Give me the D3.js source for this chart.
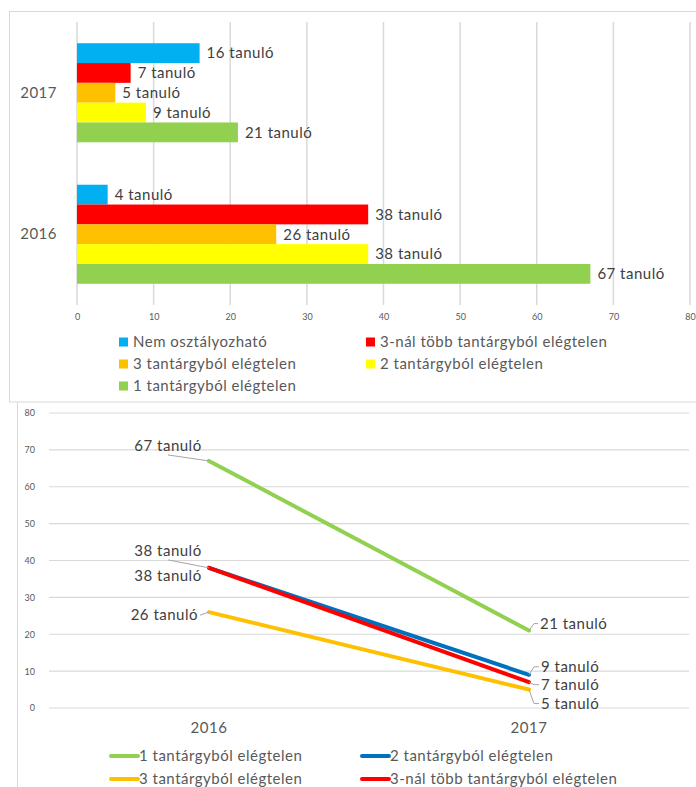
<!DOCTYPE html>
<html>
<head>
<meta charset="utf-8">
<script src="https://cdn.jsdelivr.net/npm/d3@7"></script>
<style>
  body { margin: 0; background: #fff; }
  text { font-family: Lato, "Open Sans", sans-serif; }
  .big { letter-spacing: 0.5px; }
</style>
</head>
<body>
<div id="chart"></div>
<script>
// adatok
var seriesNames = ["Nem osztályozható", "3-nál több tantárgyból elégtelen", "3 tantárgyból elégtelen", "2 tantárgyból elégtelen", "1 tantárgyból elégtelen"];
var seriesColors = ["#00B0F0", "#FF0000", "#FFC000", "#FFFF00", "#92D050"];
var barYears = ["2017", "2016"];
var values2017 = [16, 7, 5, 9, 21];
var values2016 = [4, 38, 26, 38, 67];
var xTicks = [0, 10, 20, 30, 40, 50, 60, 70, 80];

var lineYears = ["2016", "2017"];
var lineNames = ["1 tantárgyból elégtelen", "2 tantárgyból elégtelen", "3 tantárgyból elégtelen", "3-nál több tantárgyból elégtelen"];
var lineColors = ["#92D050", "#0070C0", "#FFC000", "#FF0000"];
var line1 = [67, 21];
var line2 = [38, 9];
var line3 = [26, 5];
var line4 = [38, 7];
var yTicks = [0, 10, 20, 30, 40, 50, 60, 70, 80];

var unit = " tanuló";

(function() {
	var svg = d3.select("#chart")
		.append("svg")
		.attr("width", 696)
		.attr("height", 787);

	// ---------- felső: oszlopdiagram ----------
	svg.append("rect")
		.attr("x", 9.5).attr("y", 11.5)
		.attr("width", 720).attr("height", 390.5)
		.attr("fill", "none")
		.attr("stroke", "#d9d9d9");

	var xScale = d3.scaleLinear().domain([0, 80]).range([77, 690]);
	var yBand = d3.scaleBand().domain(barYears).range([22, 305]).paddingInner(0.3).paddingOuter(0.15);
	var ySub = d3.scaleBand().domain(d3.range(seriesNames.length)).range([0, yBand.bandwidth()]);

	var grid = svg.append("g");
	grid.selectAll("line")
		.data(xTicks)
		.enter()
		.append("line")
		.attr("x1", function(d) { return xScale(d) })
		.attr("x2", function(d) { return xScale(d) })
		.attr("y1", 22)
		.attr("y2", 305)
		.attr("stroke", "#d9d9d9")
		.attr("stroke-width", 1.5);

	var xAxis = d3.axisBottom(xScale).tickValues(xTicks).tickSize(0).tickPadding(9);
	var xg = svg.append("g")
		.attr("transform", "translate(0,305)")
		.call(xAxis);
	xg.select(".domain").remove();
	xg.selectAll("text").attr("fill", "#595959").style("font-size", "9px");

	var yAxis = d3.axisLeft(yBand).tickSize(0).tickPadding(20);
	var yg = svg.append("g")
		.attr("transform", "translate(77,0)")
		.call(yAxis);
	yg.select(".domain").remove();
	yg.selectAll("text").attr("class", "big").attr("fill", "#595959").style("font-size", "15px");

	var barData = [];
	barYears.forEach(function(y) {
		var vals = y == "2017" ? values2017 : values2016;
		vals.forEach(function(v, i) {
			barData.push({ year: y, i: i, value: v });
		});
	});

	svg.selectAll(".bar")
		.data(barData)
		.enter()
		.append("rect")
		.attr("class", "bar")
		.attr("x", xScale(0))
		.attr("y", function(d) { return yBand(d.year) + ySub(d.i) })
		.attr("width", function(d) { return xScale(d.value) - xScale(0) })
		.attr("height", ySub.bandwidth())
		.attr("fill", function(d) { return seriesColors[d.i] });

	svg.selectAll(".bar-label")
		.data(barData)
		.enter()
		.append("text")
		.attr("class", "bar-label big")
		.attr("x", function(d) { return xScale(d.value) + 7 })
		.attr("y", function(d) { return yBand(d.year) + ySub(d.i) + ySub.bandwidth() / 2 })
		.attr("dy", "0.35em")
		.attr("fill", "#404040")
		.style("font-size", "15px")
		.text(function(d) { return d.value + unit });

	var legend1 = svg.selectAll(".leg1")
		.data(seriesNames)
		.enter()
		.append("g")
		.attr("class", "leg1")
		.attr("transform", function(d, i) {
			var col = i % 2, row = Math.floor(i / 2);
			return "translate(" + (col == 0 ? 119 : 366) + "," + (342 + row * 22) + ")";
		});
	legend1.append("rect")
		.attr("x", 0).attr("y", -4.5)
		.attr("width", 9).attr("height", 9)
		.attr("fill", function(d, i) { return seriesColors[i] });
	legend1.append("text")
		.attr("class", "big")
		.attr("x", 14)
		.attr("dy", "0.35em")
		.attr("fill", "#595959")
		.style("font-size", "15px")
		.text(function(d) { return d });

	// ---------- alsó: vonaldiagram ----------
	svg.append("line")
		.attr("x1", 17.5).attr("x2", 17.5)
		.attr("y1", 402).attr("y2", 787)
		.attr("stroke", "#d9d9d9");

	var xPoint = d3.scaleBand().domain(lineYears).range([49, 689]);
	var yScale = d3.scaleLinear().domain([0, 80]).range([708, 413]);

	svg.append("g").selectAll("line")
		.data(yTicks)
		.enter()
		.append("line")
		.attr("x1", 49).attr("x2", 689)
		.attr("y1", function(d) { return yScale(d) })
		.attr("y2", function(d) { return yScale(d) })
		.attr("stroke", "#d9d9d9")
		.attr("stroke-width", 1.2);

	var yAxis2 = d3.axisLeft(yScale).tickValues(yTicks).tickSize(0).tickPadding(0);
	var yg2 = svg.append("g")
		.attr("transform", "translate(35,0)")
		.call(yAxis2);
	yg2.select(".domain").remove();
	yg2.selectAll("text").attr("fill", "#595959").style("font-size", "9px");

	var xAxis2 = d3.axisBottom(xPoint).tickSize(0).tickPadding(14);
	var xg2 = svg.append("g")
		.attr("transform", "translate(0,708)")
		.call(xAxis2);
	xg2.select(".domain").remove();
	xg2.selectAll("text").attr("class", "big").attr("fill", "#595959").style("font-size", "15px");

	var lineValues = [line1, line2, line3, line4];
	var cx = function(i) { return xPoint(lineYears[i]) + xPoint.bandwidth() / 2 };

	var line = d3.line()
		.x(function(d, i) { return cx(i) })
		.y(function(d) { return yScale(d) });

	// rajzolási sorrend: zöld, kék, narancs, piros
	lineValues.forEach(function(vals, s) {
		svg.append("path")
			.datum(vals)
			.attr("d", line)
			.attr("fill", "none")
			.attr("stroke", lineColors[s])
			.attr("stroke-width", 4)
			.attr("stroke-linecap", "round");
	});

	// címkék elhelyezése (sorozat, pont, eltolás)
	var labelPlace = [
		{ s: 0, p: 0, dx: -41, dy: -15, anchor: "middle", lead: true },
		{ s: 1, p: 0, dx: -41, dy: -17, anchor: "middle", lead: true },
		{ s: 3, p: 0, dx: -41, dy: 8, anchor: "middle", lead: false },
		{ s: 2, p: 0, dx: -11, dy: 3, anchor: "end", lead: true },
		{ s: 0, p: 1, dx: 11, dy: -7, anchor: "start", lead: true },
		{ s: 1, p: 1, dx: 12, dy: -8, anchor: "start", lead: true },
		{ s: 3, p: 1, dx: 12, dy: 2.5, anchor: "start", lead: true },
		{ s: 2, p: 1, dx: 12, dy: 14, anchor: "start", lead: true }
	];

	labelPlace.forEach(function(l) {
		var px = cx(l.p), py = yScale(lineValues[l.s][l.p]);
		var tx = px + l.dx, ty = py + l.dy;
		if (l.lead) {
			var path;
			if (l.anchor == "start") {
				path = "M" + px + "," + py + "L" + (px + 5) + "," + ty + "L" + (tx - 2) + "," + ty;
			} else if (l.anchor == "end") {
				path = "M" + px + "," + py + "L" + (tx + 2) + "," + ty;
			} else {
				path = "M" + px + "," + py + "L" + tx + "," + (ty + 9);
			}
			svg.append("path")
				.attr("d", path)
				.attr("fill", "none")
				.attr("stroke", "#a6a6a6")
				.attr("stroke-width", 1);
		}
		svg.append("text")
			.attr("class", "big")
			.attr("x", tx)
			.attr("y", ty)
			.attr("dy", "0.35em")
			.attr("text-anchor", l.anchor)
			.attr("fill", "#404040")
			.style("font-size", "15px")
			.text(lineValues[l.s][l.p] + unit);
	});

	var legend2 = svg.selectAll(".leg2")
		.data(lineNames)
		.enter()
		.append("g")
		.attr("class", "leg2")
		.attr("transform", function(d, i) {
			var col = i % 2, row = Math.floor(i / 2);
			return "translate(" + (col == 0 ? 111 : 362) + "," + (756 + row * 23) + ")";
		});
	legend2.append("line")
		.attr("x1", 0).attr("x2", 27)
		.attr("stroke", function(d, i) { return lineColors[i] })
		.attr("stroke-width", 4)
		.attr("stroke-linecap", "round");
	legend2.append("text")
		.attr("class", "big")
		.attr("x", 28)
		.attr("dy", "0.35em")
		.attr("fill", "#595959")
		.style("font-size", "15px")
		.text(function(d) { return d });
})();
</script>
</body>
</html>
